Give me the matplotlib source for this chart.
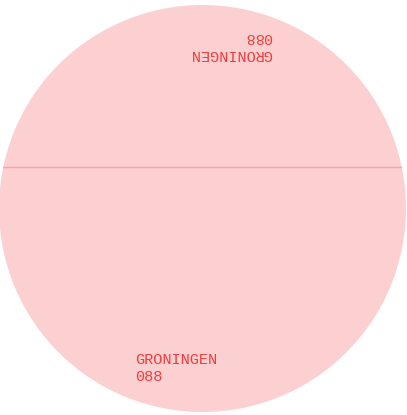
import matplotlib
matplotlib.use("Agg")
import matplotlib.pyplot as plt

# data
regions = ["GRONINGEN"]
codes = ["088"]
shares = [1.0]
chord_level = 0.205   # horizontal divider, in units of radius above centre

W, H = 407, 415
fig = plt.figure(figsize=(W / 100, H / 100), dpi=100)
ax = fig.add_axes([0, 0, 1, 1])
R = 203.5
cx, cy = 202.5, H - 208.5

wedges, _ = ax.pie(shares, radius=R, center=(cx, cy), colors=["#fccfd1"],
                   wedgeprops=dict(linewidth=0), frame=True)
ax.set_xlim(0, W)
ax.set_ylim(0, H)
ax.set_aspect("equal")
ax.axis("off")

ln, = ax.plot([cx - R, cx + R], [cy + chord_level * R] * 2,
              color="#f7a3a3", lw=1)
ln.set_clip_path(wedges[0])

mono = ["Liberation Mono", "DejaVu Sans Mono"]
for reg, code in zip(regions, codes):
    txt = f"{reg}\n{code}"
    # upright label, lower part of the disc
    ax.text(cx - 67.5, cy - 160, txt, family=mono, fontsize=11,
            color="#f03c3c", ha="left", va="center", linespacing=1.3)
    # same label mirrored through the centre (rotated 180°)
    ax.text(cx + 69.5, cy + 163, txt, family=mono, fontsize=11,
            color="#f03c3c", ha="left", va="center", linespacing=1.3,
            rotation=180, rotation_mode="anchor")

fig.savefig("out.png", dpi=100)
